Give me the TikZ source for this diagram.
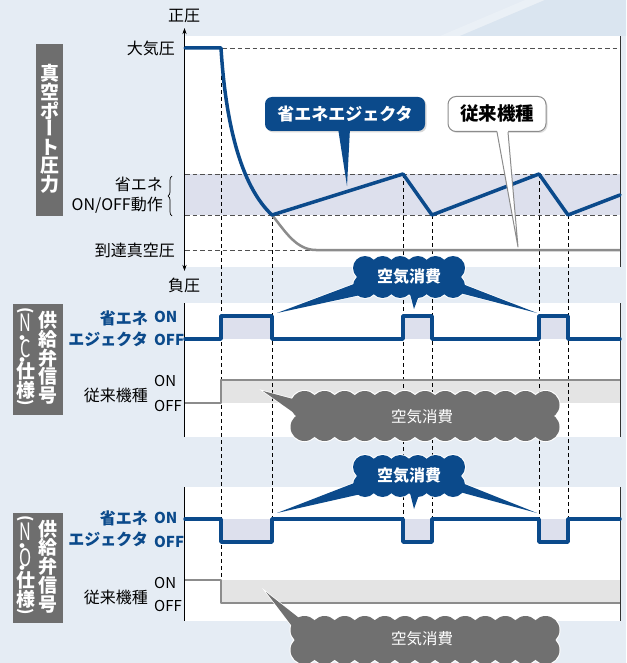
\documentclass[tikz,border=0pt]{standalone}
\usepackage{fontspec}
\setmainfont{Noto Sans CJK JP}
\usetikzlibrary{decorations.pathreplacing,shadows,arrows.meta}
\definecolor{bgc}{HTML}{E5ECF4}
\definecolor{streakA}{HTML}{EAF0F6}
\definecolor{streakB}{HTML}{DAE5F0}
\definecolor{bluec}{HTML}{0B4A8B}
\definecolor{lav}{HTML}{DDE0ED}
\definecolor{grayl}{HTML}{8C8C8C}
\definecolor{grayf}{HTML}{E4E4E4}
\definecolor{boxg}{HTML}{6E6E6E}
\definecolor{cloudg}{HTML}{707070}
\definecolor{dashg}{HTML}{505050}
\newcommand{\myfs}[1]{\fontsize{#1}{#1}\selectfont}
\newcommand{\cloudpuff}[7]{%
  \pgfmathsetmacro{\cpxa}{#1-#3+#5}%
  \pgfmathsetmacro{\cpxb}{#1+#3-#5}%
  \pgfmathsetmacro{\cpyt}{#2-#4+#5}%
  \pgfmathsetmacro{\cpyb}{#2+#4-#5}%
  \pgfmathsetmacro{\cpst}{(\cpxb-\cpxa)/#6}%
  \fill[#7] (\cpxa,\cpyt) rectangle (\cpxb,\cpyb);
  \foreach \k in {0,...,#6}{%
    \fill[#7] ({\cpxa+\k*\cpst},\cpyt) circle[radius=#5];
    \fill[#7] ({\cpxa+\k*\cpst},\cpyb) circle[radius=#5];
  }%
}
\newcommand{\vparen}[1]{\rotatebox[origin=c]{-90}{\fontsize{16}{0}\selectfont #1}}
\newcommand{\vlatin}[1]{\scalebox{0.68}[1]{\fontsize{24}{0}\selectfont\mdseries #1}}
\newcommand{\vdot}{\kern-7pt{\fontsize{17}{0}\selectfont ・}}
\newcommand{\colrow}[2]{\hbox to 24pt{\hss\smash{#1}\hss}\kern#2\relax}
\tikzset{
  dashv/.style={draw=black, line width=0.8pt, dash pattern=on 4pt off 3pt},
  dashh/.style={draw=dashg, line width=0.8pt, dash pattern=on 4.5pt off 3pt},
  bluesig/.style={draw=bluec, line width=3.5pt, line join=round, line cap=round},
  graysig/.style={draw=grayl, line width=2.5pt, line join=round},
  lbl/.style={font=\myfs{16}, inner sep=0pt, text=black},
  bluelbl/.style={font=\myfs{16}\bfseries, text=bluec, inner sep=0pt, anchor=east},
  onb/.style={font=\myfs{15}\bfseries, text=bluec, inner sep=0pt, anchor=west},
  onk/.style={font=\myfs{15}, text=black, inner sep=0pt, anchor=west},
  vch/.style={text=white, font=\myfs{19}\bfseries, inner sep=0pt},
  vcol/.style={text=white, font=\fontsize{19}{18.75}\selectfont\bfseries, inner sep=0pt, align=center},
  vleft/.style={text=white, inner sep=0pt, anchor=north, font=\myfs{19}\bfseries},
  axisln/.style={draw=black, line width=0.9pt},
  bordln/.style={draw=black!80, line width=0.9pt},
  cloudtxt/.style={text=white, font=\myfs{16}\bfseries, inner sep=0pt},
  cloudtxtg/.style={text=white, font=\myfs{15.5}, inner sep=0pt},
}
\begin{document}
\begin{tikzpicture}[x=1pt,y=-1pt]
\useasboundingbox (0,0) rectangle (626,663);
% background
\fill[bgc] (0,0) rectangle (626,663);
\fill[streakA] (440,36) -- (525,0) -- (545,0) -- (460,36) -- cycle;
\fill[streakB] (460,36) -- (545,0) -- (626,0) -- (626,36) -- cycle;
% panels
\fill[white] (185,36) rectangle (620,267);
\fill[white] (185,303) rectangle (620,437);
\fill[white] (185,487) rectangle (620,621);
% fills
\fill[lav] (185,174) rectangle (620,215);
\fill[lav] (221,316) rectangle (272,339);
\fill[lav] (403,316) rectangle (432,339);
\fill[lav] (539,316) rectangle (568,339);
\fill[lav] (221,519) rectangle (272,542);
\fill[lav] (403,519) rectangle (432,542);
\fill[lav] (539,519) rectangle (568,542);
\fill[grayf] (221,380) rectangle (620,403);
\fill[grayf] (221,580) rectangle (620,603);
% horizontal dashed
\draw[dashh] (185,48) -- (620,48);
\draw[dashh] (185,174) -- (620,174);
\draw[dashh] (185,215) -- (620,215);
\draw[dashh] (185,250) -- (316,250);
% vertical dashed
\draw[dashv] (221,48) -- (221,580);
\draw[dashv] (272,215) -- (272,519);
\draw[dashv] (403,174) -- (403,519);
\draw[dashv] (432,215) -- (432,519);
\draw[dashv] (539,174) -- (539,519);
\draw[dashv] (568,215) -- (568,519);
% axes and borders
\coordinate (axTop) at (184.5,28);
\coordinate (axBot) at (184.5,271);
\draw[axisln, {Stealth[length=6pt,width=4pt]}-{Stealth[length=6pt,width=4pt]}] (axTop) -- (axBot);
\draw[axisln] (184.5,303) -- (184.5,437);
\draw[axisln] (184.5,487) -- (184.5,621);
\draw[bordln] (620.5,36) -- (620.5,267);
\draw[bordln] (620.5,303) -- (620.5,437);
\draw[bordln] (620.5,487) -- (620.5,621);
% pressure curves
\draw[graysig] (272,215) .. controls (285,231) and (296,250) .. (316,250) -- (620,250);
\draw[bluesig] (185,48) -- (221,48) .. controls (226,130) and (243,188) .. (272,215)
  -- (403,174) -- (432,215) -- (539,174) -- (568,215) -- (620,195);
% N.C. signals
\draw[graysig] (185,403) -- (221,403) -- (221,380) -- (620,380);
\draw[bluesig] (185,339) -- (221,339) -- (221,316) -- (272,316) -- (272,339) -- (403,339)
  -- (403,316) -- (432,316) -- (432,339) -- (539,339) -- (539,316) -- (568,316) -- (568,339) -- (620,339);
% N.O. signals
\draw[graysig] (185,580) -- (221,580) -- (221,603) -- (620,603);
\draw[bluesig] (185,519) -- (221,519) -- (221,542) -- (272,542) -- (272,519) -- (403,519)
  -- (403,542) -- (432,542) -- (432,519) -- (539,519) -- (539,542) -- (568,542) -- (568,519) -- (620,519);

% callout: energy-saving ejector
\node[fill=bluec, text=white, rounded corners=7pt, minimum width=160pt, minimum height=34pt,
  font=\myfs{17}\bfseries, inner sep=0pt,
  drop shadow={shadow xshift=1.5pt, shadow yshift=-1.5pt, opacity=0.3}] (cE) at (345,114) {省エネエジェクタ};
\coordinate (tE) at (347,186);
\fill[bluec] ([xshift=-7pt,yshift=3pt]cE.south) -- (tE) -- ([xshift=5pt,yshift=3pt]cE.south) -- cycle;
% callout: conventional
\node[fill=white, draw=grayl, line width=1pt, rounded corners=8pt, minimum width=98pt, minimum height=35pt,
  font=\myfs{18.5}\bfseries, inner sep=0pt,
  drop shadow={shadow xshift=1.5pt, shadow yshift=-1.5pt, opacity=0.25}] (cJ) at (497,114) {従来機種};
\coordinate (tJ) at (518,247);
\fill[white] ([yshift=2pt]cJ.south) -- (tJ) -- ([xshift=11pt,yshift=2pt]cJ.south) -- cycle;
\draw[grayl, line width=1pt, line join=round] (cJ.south) -- (tJ) -- ([xshift=11pt]cJ.south);

% blue cloud 1
\coordinate (b1L) at (277,313);
\coordinate (b1R) at (537,313);
\coordinate (b1S) at (414,309);
\draw[white, line width=1.4pt, fill=white] (362,281) -- (b1L) -- (370,293) -- cycle;
\draw[white, line width=1.4pt, fill=white] (452,280) -- (b1R) -- (456,292) -- cycle;
\draw[white, line width=1.4pt, fill=white] (409,290) -- (b1S) -- (421,290) -- cycle;
\cloudpuff{409}{277}{57}{22}{13}{5}{white}
\fill[bluec] (362,281) -- (b1L) -- (370,293) -- cycle;
\fill[bluec] (452,280) -- (b1R) -- (456,292) -- cycle;
\fill[bluec] (409,290) -- (b1S) -- (421,290) -- cycle;
\cloudpuff{409}{277}{56}{21}{12}{5}{bluec}
\node[cloudtxt] (c1) at (409,277) {空気消費};

% blue cloud 2
\coordinate (b2L) at (277,513);
\coordinate (b2R) at (537,513);
\coordinate (b2S) at (414,509);
\draw[white, line width=1.4pt, fill=white] (362,480) -- (b2L) -- (370,492) -- cycle;
\draw[white, line width=1.4pt, fill=white] (452,479) -- (b2R) -- (456,491) -- cycle;
\draw[white, line width=1.4pt, fill=white] (409,489) -- (b2S) -- (421,489) -- cycle;
\cloudpuff{409}{476}{57}{22}{13}{5}{white}
\fill[bluec] (362,480) -- (b2L) -- (370,492) -- cycle;
\fill[bluec] (452,479) -- (b2R) -- (456,491) -- cycle;
\fill[bluec] (409,489) -- (b2S) -- (421,489) -- cycle;
\cloudpuff{409}{476}{56}{21}{12}{5}{bluec}
\node[cloudtxt] (c2) at (409,476) {空気消費};

% gray cloud 1
\coordinate (g1T) at (263,391);
\draw[white, line width=1.4pt, fill=white] (308,403) -- (g1T) -- (304,420) -- cycle;
\cloudpuff{425}{416}{135.5}{26}{15}{12}{white}
\fill[cloudg] (308,403) -- (g1T) -- (304,420) -- cycle;
\cloudpuff{425}{416}{134.5}{25}{14}{12}{cloudg}
\node[cloudtxtg] (c3) at (422,417) {空気消費};

% gray cloud 2
\coordinate (g2T) at (266,592);
\draw[white, line width=1.4pt, fill=white] (308,625) -- (g2T) -- (304,642) -- cycle;
\cloudpuff{425}{640}{135.5}{25}{15}{12}{white}
\fill[cloudg] (308,625) -- (g2T) -- (304,642) -- cycle;
\cloudpuff{425}{640}{134.5}{24}{14}{12}{cloudg}
\node[cloudtxtg] (c4) at (422,639) {空気消費};

% axis labels
\node[lbl] (tSei) at (184,16) {正圧};
\node[lbl] (tFu) at (184,285) {負圧};
\node[lbl, anchor=east] (tTaiki) at (175,48) {大気圧};
\node[lbl, anchor=east] (tSho) at (163,184) {省エネ};
\node[lbl, anchor=east] (tOnoff) at (163,205) {ON/OFF動作};
\node[lbl, anchor=east] (tTotatsu) at (175,250) {到達真空圧};
\coordinate (brA) at (172,216);
\coordinate (brB) at (172,176);
\draw[decorate, decoration={brace, amplitude=4pt}, line width=0.7pt] (brA) -- (brB);

% N.C. labels
\node[bluelbl] (nc1) at (148,318) {省エネ};
\node[bluelbl] (nc2) at (148,339) {エジェクタ};
\node[onb] (nc3) at (154,317) {ON};
\node[onb] (nc4) at (154,340) {OFF};
\node[lbl, anchor=east] (nc5) at (148,395) {従来機種};
\node[onk] (nc6) at (154,381) {ON};
\node[onk] (nc7) at (154,406) {OFF};
% N.O. labels
\node[bluelbl] (no1) at (148,518) {省エネ};
\node[bluelbl] (no2) at (148,539) {エジェクタ};
\node[onb] (no3) at (154,518) {ON};
\node[onb] (no4) at (154,542) {OFF};
\node[lbl, anchor=east] (no5) at (148,597) {従来機種};
\node[onk] (no6) at (154,583) {ON};
\node[onk] (no7) at (154,606) {OFF};

% left boxes
\fill[boxg] (36,44) rectangle (63,216);
\node[vch] (v1) at (49.5,73.5) {真};
\node[vch] (v2) at (49.5,92) {空};
\node[vch] (v3) at (49.5,110.5) {ポ};
\node[vch, rotate=-90, text height=14.4pt, text depth=0pt] (v4) at (49.5,128.5) {ー};
\node[vch] (v5) at (49.5,147) {ト};
\node[vch] (v6) at (49.5,165.5) {圧};
\node[vch] (v7) at (49.5,184) {力};

\fill[boxg] (12.5,304) rectangle (63,414.5);
\node[vcol] (b2r) at (47.5,358) {供\\給\\弁\\信\\号};
\node[vleft] (b2l) at (25.5,315.5) {\vbox{\offinterlineskip
  \colrow{\vparen{(}}{15.9pt}\colrow{\vlatin{N}}{12.5pt}\colrow{\vdot}{13.5pt}%
  \colrow{\vlatin{C}}{8.8pt}\colrow{\vdot}{12.5pt}\colrow{仕}{19pt}%
  \colrow{様}{10.3pt}\colrow{\vparen{)}}{0pt}}};

\fill[boxg] (12.5,512.5) rectangle (63,623);
\node[vcol] (b3r) at (47.5,566.5) {供\\給\\弁\\信\\号};
\node[vleft] (b3l) at (25.5,524) {\vbox{\offinterlineskip
  \colrow{\vparen{(}}{15.9pt}\colrow{\vlatin{N}}{12.5pt}\colrow{\vdot}{13.5pt}%
  \colrow{\vlatin{O}}{8.8pt}\colrow{\vdot}{12.5pt}\colrow{仕}{19pt}%
  \colrow{様}{10.3pt}\colrow{\vparen{)}}{0pt}}};
\end{tikzpicture}
\end{document}
